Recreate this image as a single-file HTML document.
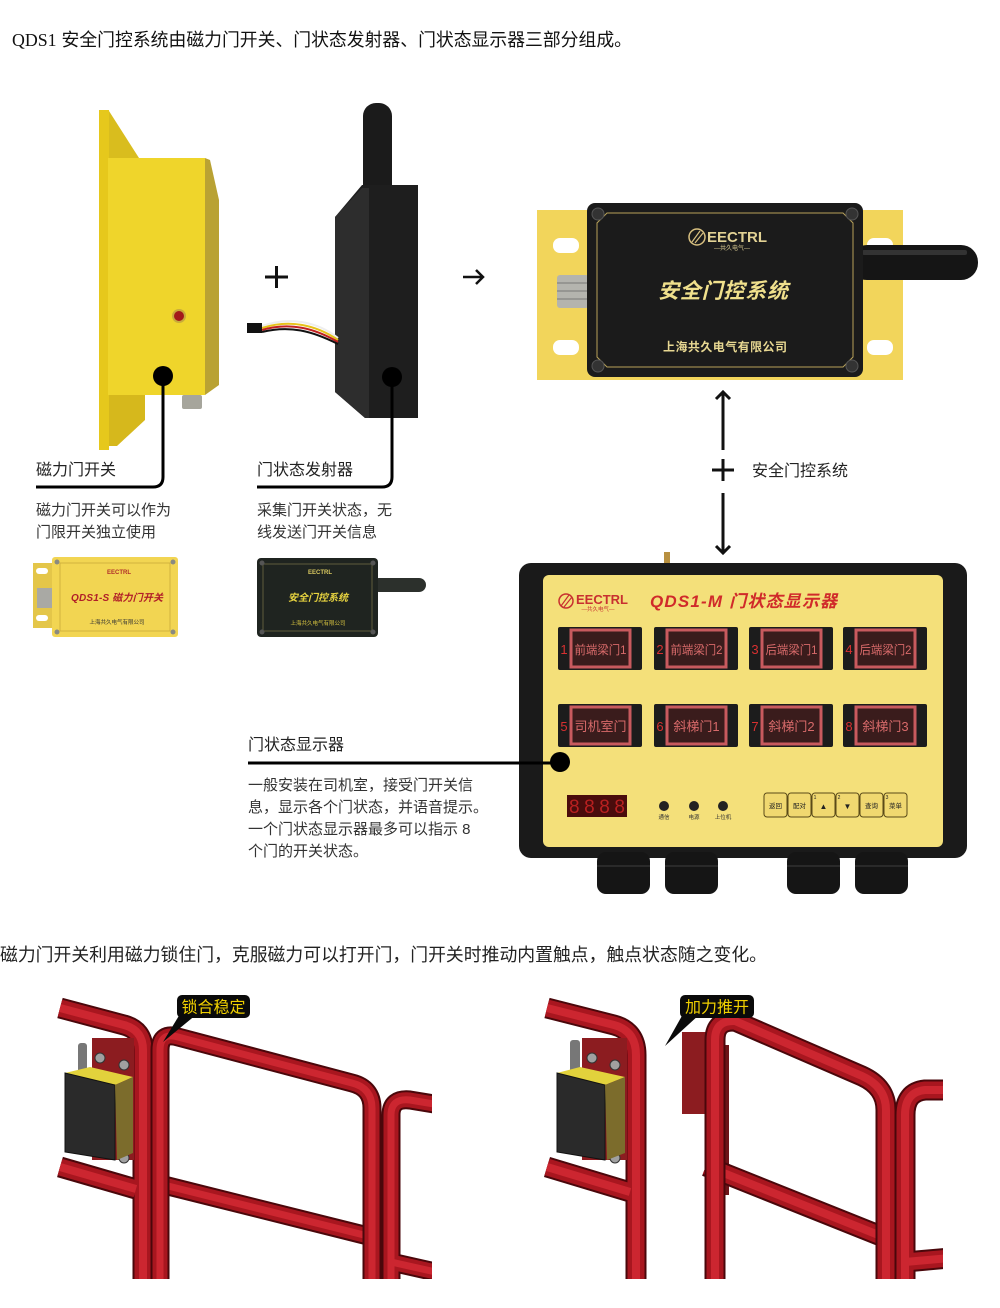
<!DOCTYPE html>
<html><head><meta charset="utf-8">
<style>
html,body{margin:0;padding:0;background:#fff}
svg{display:block}
text{font-family:"Liberation Sans","Noto Sans CJK SC",sans-serif}
</style></head>
<body>
<svg width="1000" height="1308" viewBox="0 0 1000 1308" xmlns="http://www.w3.org/2000/svg">
<defs>
  <clipPath id="cl"><rect x="0" y="985" width="432" height="294"/></clipPath>
  <clipPath id="cr"><rect x="480" y="985" width="463" height="294"/></clipPath>
  <path id="l1" d="M60,1167 L136,1189"/>
  <path id="l2" d="M60,1008 L124,1025 Q143,1030 143,1050 L143,1280"/>
  <path id="l3" d="M160,1184 L372,1237"/>
  <path id="l4" d="M160,1280 L160,1050 Q160,1032 178,1037 L352,1083 Q372,1088 372,1108 L372,1280"/>
  <path id="l5" d="M391,1262 L440,1273"/>
  <path id="l6" d="M391,1280 L391,1115 Q391,1098 410,1100 L440,1105"/>
  <path id="r1" d="M547,1167 L630,1192"/>
  <path id="r2" d="M547,1008 L614,1025 Q636,1031 636,1055 L636,1280"/>
  <path id="r3" d="M706,1166 L886,1238"/>
  <path id="r4" d="M715,1280 L715,1040 Q715,1020 735,1021 L862,1076 Q886,1087 886,1110 L886,1280"/>
  <path id="r5" d="M905,1262 L950,1258"/>
  <path id="r6" d="M905,1280 L905,1115 Q905,1092 925,1090 L950,1090"/>
</defs>

<!-- Title -->
<text x="12" y="46" font-size="18" fill="#111" textLength="620" lengthAdjust="spacingAndGlyphs"><tspan font-family="Liberation Serif">QDS1</tspan> 安全门控系统由磁力门开关、门状态发射器、门状态显示器三部分组成。</text>

<!-- Yellow magnetic switch side view -->
<rect x="99" y="110" width="10" height="340" fill="#e6c81c"/>
<polygon points="109,111 139,158 109,158" fill="#d9bd1e"/>
<polygon points="109,395 145,395 145,420 117,446 109,446" fill="#d6b81c"/>
<rect x="108" y="158" width="97" height="237" fill="#efd52b"/>
<polygon points="205,158 210,160 219,200 219,385 205,395" fill="#b9a233"/>
<circle cx="179" cy="316" r="7" fill="#c9ab3a"/>
<circle cx="179" cy="316" r="5" fill="#a31a1a"/>
<rect x="182" y="395" width="20" height="14" rx="2" fill="#a6a59c"/>
<circle cx="163" cy="376" r="10" fill="#000"/>
<path d="M163,376 L163,477 Q163,487 153,487 L36,487" stroke="#000" stroke-width="3" fill="none"/>
<text x="36" y="475" font-size="16" fill="#222">磁力门开关</text>

<!-- plus / arrow -->
<path d="M265,277 H288 M276.5,266 V288" stroke="#111" stroke-width="3"/>
<path d="M463,277 H483 M476,270 L483,277 L476,284" stroke="#111" stroke-width="2.5" fill="none"/>

<!-- Transmitter -->
<rect x="363" y="103" width="29" height="95" rx="13" fill="#1b1b1b"/>
<polygon points="362,185 418,185 418,418 365,418 335,392 335,217" fill="#1e1e1e"/>
<polygon points="335,217 362,188 369,188 369,418 365,418 335,392" fill="#2d2d2d"/>
<path d="M262,326 C290,316 318,322 338,338" stroke="#eee" stroke-width="2" fill="none"/>
<path d="M262,328 C290,319 316,325 338,340" stroke="#e6c21a" stroke-width="2" fill="none"/>
<path d="M262,330 C290,322 314,328 338,342" stroke="#c02020" stroke-width="2" fill="none"/>
<path d="M262,332 C290,325 312,331 338,344" stroke="#111" stroke-width="2" fill="none"/>
<rect x="247" y="323" width="15" height="10" fill="#111"/>
<circle cx="392" cy="377" r="10" fill="#000"/>
<path d="M392,377 L392,477 Q392,487 382,487 L257,487" stroke="#000" stroke-width="3" fill="none"/>
<text x="257" y="475" font-size="16" fill="#222">门状态发射器</text>

<!-- descriptions -->
<text x="36" y="515" font-size="15" fill="#333">磁力门开关可以作为</text>
<text x="36" y="537" font-size="15" fill="#333">门限开关独立使用</text>
<text x="257" y="515" font-size="15" fill="#333">采集门开关状态，无</text>
<text x="257" y="537" font-size="15" fill="#333">线发送门开关信息</text>

<!-- small yellow box -->
<rect x="33" y="563" width="22" height="65" fill="#e4c649"/>
<rect x="36" y="568" width="12" height="6" rx="3" fill="#fff"/>
<rect x="36" y="615" width="12" height="6" rx="3" fill="#fff"/>
<rect x="37" y="588" width="15" height="20" fill="#a9a9a4"/>
<rect x="52" y="557" width="126" height="80" rx="3" fill="#f2d552"/>
<rect x="60" y="563" width="110" height="68" fill="none" stroke="#c9ab3a" stroke-width="0.8"/>
<circle cx="57" cy="562" r="2.5" fill="#8a8a80"/><circle cx="173" cy="562" r="2.5" fill="#8a8a80"/>
<circle cx="57" cy="632" r="2.5" fill="#8a8a80"/><circle cx="173" cy="632" r="2.5" fill="#8a8a80"/>
<text x="119" y="574" font-size="6" font-weight="bold" fill="#b0302a" text-anchor="middle">EECTRL</text>
<text x="117" y="601" font-size="10" font-weight="bold" font-style="italic" fill="#b01e28" text-anchor="middle" textLength="92">QDS1-S 磁力门开关</text>
<text x="117" y="624" font-size="5.5" fill="#333" text-anchor="middle">上海共久电气有限公司</text>

<!-- small black box -->
<rect x="372" y="578" width="54" height="14" rx="7" fill="#2c302c"/>
<rect x="257" y="558" width="121" height="79" rx="4" fill="#1f2420"/>
<rect x="263" y="564" width="109" height="67" fill="none" stroke="#8a8050" stroke-width="0.6"/>
<circle cx="262" cy="563" r="2.5" fill="#555"/><circle cx="373" cy="563" r="2.5" fill="#555"/>
<circle cx="262" cy="632" r="2.5" fill="#555"/><circle cx="373" cy="632" r="2.5" fill="#555"/>
<text x="320" y="574" font-size="6" font-weight="bold" fill="#d8c860" text-anchor="middle">EECTRL</text>
<text x="318" y="601" font-size="10" font-weight="bold" font-style="italic" fill="#e8d440" text-anchor="middle">安全门控系统</text>
<text x="318" y="625" font-size="5.5" fill="#d8c440" text-anchor="middle">上海共久电气有限公司</text>

<!-- Top right device -->
<rect x="537" y="210" width="366" height="170" fill="#f2d55b"/>
<rect x="553" y="238" width="26" height="15" rx="7" fill="#fff"/>
<rect x="553" y="340" width="26" height="15" rx="7" fill="#fff"/>
<rect x="867" y="238" width="26" height="15" rx="7" fill="#fff"/>
<rect x="867" y="340" width="26" height="15" rx="7" fill="#fff"/>
<rect x="850" y="245" width="128" height="35" rx="17" fill="#151515"/>
<rect x="862" y="250" width="105" height="5" rx="2" fill="#333"/>
<rect x="557" y="275" width="32" height="33" rx="3" fill="#b4b4ae"/>
<path d="M557,283 H589 M557,291 H589 M557,299 H589" stroke="#777" stroke-width="1"/>
<rect x="587" y="203" width="276" height="174" rx="8" fill="#1b1b1b"/>
<polygon points="607,213 843,213 853,223 853,357 843,367 607,367 597,357 597,223" fill="none" stroke="#b8a25a" stroke-width="1"/>
<circle cx="598" cy="214" r="6" fill="#333" stroke="#555"/>
<circle cx="852" cy="214" r="6" fill="#333" stroke="#555"/>
<circle cx="598" cy="366" r="6" fill="#333" stroke="#555"/>
<circle cx="852" cy="366" r="6" fill="#333" stroke="#555"/>
<circle cx="697" cy="237" r="8" fill="none" stroke="#d8c080" stroke-width="1.5"/>
<path d="M692,242 L700,231 M695,243 L703,233" stroke="#d8c080" stroke-width="1.2"/>
<text x="707" y="242" font-size="15" font-weight="bold" fill="#e2d294">EECTRL</text>
<text x="732" y="250" font-size="6" fill="#d8c890" text-anchor="middle">—共久电气—</text>
<text x="723" y="298" font-size="21" font-weight="bold" font-style="italic" fill="#f0e08c" text-anchor="middle" textLength="130">安全门控系统</text>
<text x="725" y="351" font-size="12" font-weight="bold" fill="#e8d892" text-anchor="middle" textLength="124">上海共久电气有限公司</text>

<!-- vertical arrows -->
<path d="M723,392 V450 M716,399 L723,392 L730,399" stroke="#111" stroke-width="3" fill="none"/>
<path d="M712,470 H734 M723,459 V481" stroke="#111" stroke-width="3"/>
<path d="M723,493 V553 M716,546 L723,553 L730,546" stroke="#111" stroke-width="3" fill="none"/>
<text x="752" y="476" font-size="16" fill="#222">安全门控系统</text>

<!-- Display -->
<rect x="664" y="552" width="6" height="12" fill="#b89040"/>
<rect x="519" y="563" width="448" height="295" rx="12" fill="#1a1a1a"/>
<rect x="543" y="575" width="400" height="272" rx="6" fill="#f4e07a"/>
<circle cx="566" cy="601" r="7" fill="none" stroke="#c83030" stroke-width="1.5"/>
<path d="M561,606 L569,595 M564,607 L572,597" stroke="#c83030" stroke-width="1.2"/>
<text x="576" y="604" font-size="13" font-weight="bold" fill="#c83030">EECTRL</text>
<text x="598" y="611" font-size="5.5" fill="#c83030" text-anchor="middle">—共久电气—</text>
<text x="650" y="607" font-size="17" font-weight="bold" font-style="italic" fill="#d02a2a" textLength="187">QDS1-M 门状态显示器</text>

<g font-size="12" text-anchor="middle">
  <!-- row 1 -->
  <rect x="558" y="627" width="84" height="43" rx="2" fill="#1c1c1c"/>
  <rect x="571" y="630" width="59" height="37" fill="#3a1c1c" stroke="#c85a5e" stroke-width="3"/>
  <text x="564" y="654" fill="#d83030" font-size="13">1</text><text x="600.5" y="654" fill="#d86a6a" textLength="52" lengthAdjust="spacingAndGlyphs">前端梁门1</text>
  <rect x="654" y="627" width="84" height="43" rx="2" fill="#1c1c1c"/>
  <rect x="667" y="630" width="59" height="37" fill="#3a1c1c" stroke="#c85a5e" stroke-width="3"/>
  <text x="660" y="654" fill="#d83030" font-size="13">2</text><text x="696.5" y="654" fill="#d86a6a" textLength="52" lengthAdjust="spacingAndGlyphs">前端梁门2</text>
  <rect x="749" y="627" width="84" height="43" rx="2" fill="#1c1c1c"/>
  <rect x="762" y="630" width="59" height="37" fill="#3a1c1c" stroke="#c85a5e" stroke-width="3"/>
  <text x="755" y="654" fill="#d83030" font-size="13">3</text><text x="791.5" y="654" fill="#d86a6a" textLength="52" lengthAdjust="spacingAndGlyphs">后端梁门1</text>
  <rect x="843" y="627" width="84" height="43" rx="2" fill="#1c1c1c"/>
  <rect x="856" y="630" width="59" height="37" fill="#3a1c1c" stroke="#c85a5e" stroke-width="3"/>
  <text x="849" y="654" fill="#d83030" font-size="13">4</text><text x="885.5" y="654" fill="#d86a6a" textLength="52" lengthAdjust="spacingAndGlyphs">后端梁门2</text>
  <!-- row 2 -->
  <rect x="558" y="704" width="84" height="43" rx="2" fill="#1c1c1c"/>
  <rect x="571" y="707" width="59" height="37" fill="#3a1c1c" stroke="#c85a5e" stroke-width="3"/>
  <text x="564" y="731" fill="#d83030" font-size="13">5</text><text x="600.5" y="731" fill="#d86a6a" font-size="13">司机室门</text>
  <rect x="654" y="704" width="84" height="43" rx="2" fill="#1c1c1c"/>
  <rect x="667" y="707" width="59" height="37" fill="#3a1c1c" stroke="#c85a5e" stroke-width="3"/>
  <text x="660" y="731" fill="#d83030" font-size="13">6</text><text x="696.5" y="731" fill="#d86a6a" font-size="13">斜梯门1</text>
  <rect x="749" y="704" width="84" height="43" rx="2" fill="#1c1c1c"/>
  <rect x="762" y="707" width="59" height="37" fill="#3a1c1c" stroke="#c85a5e" stroke-width="3"/>
  <text x="755" y="731" fill="#d83030" font-size="13">7</text><text x="791.5" y="731" fill="#d86a6a" font-size="13">斜梯门2</text>
  <rect x="843" y="704" width="84" height="43" rx="2" fill="#1c1c1c"/>
  <rect x="856" y="707" width="59" height="37" fill="#3a1c1c" stroke="#c85a5e" stroke-width="3"/>
  <text x="849" y="731" fill="#d83030" font-size="13">8</text><text x="885.5" y="731" fill="#d86a6a" font-size="13">斜梯门3</text>
</g>

<rect x="567" y="795" width="60" height="22" fill="#4a0c0c"/>
<text x="569" y="813" font-size="19" font-family="Liberation Mono" fill="#b82020" textLength="56">8888</text>
<circle cx="664" cy="806" r="5" fill="#222"/><circle cx="694" cy="806" r="5" fill="#222"/><circle cx="723" cy="806" r="5" fill="#222"/>
<g font-size="5.5" fill="#333" text-anchor="middle">
<text x="664" y="819">通信</text><text x="694" y="819">电源</text><text x="723" y="819">上位机</text>
</g>
<g fill="#f0d870" stroke="#5a4a18" stroke-width="1">
<rect x="764" y="793" width="23" height="24" rx="3"/><rect x="788" y="793" width="23" height="24" rx="3"/>
<rect x="812" y="793" width="23" height="24" rx="3"/><rect x="836" y="793" width="23" height="24" rx="3"/>
<rect x="860" y="793" width="23" height="24" rx="3"/><rect x="884" y="793" width="23" height="24" rx="3"/>
</g>
<g font-size="6.5" fill="#222" text-anchor="middle">
<text x="775.5" y="808">返回</text><text x="799.5" y="808">配对</text>
<text x="823.5" y="809" font-size="8">▲</text><text x="847.5" y="809" font-size="8">▼</text>
<text x="871.5" y="808">查询</text><text x="895.5" y="808">菜单</text>
<text x="815" y="799" font-size="5">1</text><text x="839" y="799" font-size="5">2</text><text x="887" y="799" font-size="5">3</text>
</g>
<g fill="#151515">
<rect x="597" y="852" width="53" height="42" rx="9"/><rect x="665" y="852" width="53" height="42" rx="9"/>
<rect x="787" y="852" width="53" height="42" rx="9"/><rect x="855" y="852" width="53" height="42" rx="9"/>
</g>
<path d="M597,866 H650 M665,866 H718 M787,866 H840 M855,866 H908" stroke="#2a2a2a" stroke-width="2"/>

<circle cx="560" cy="762" r="10" fill="#000"/>
<path d="M248,763 H560" stroke="#000" stroke-width="3"/>
<text x="248" y="750" font-size="16" fill="#222">门状态显示器</text>
<g font-size="15" fill="#333">
<text x="248" y="790">一般安装在司机室，接受门开关信</text>
<text x="248" y="812">息，显示各个门状态，并语音提示。</text>
<text x="248" y="834">一个门状态显示器最多可以指示 8</text>
<text x="248" y="856">个门的开关状态。</text>
</g>

<!-- bottom text -->
<text x="0" y="961" font-size="18" fill="#222" textLength="767" lengthAdjust="spacingAndGlyphs">磁力门开关利用磁力锁住门，克服磁力可以打开门，门开关时推动内置触点，触点状态随之变化。</text>

<!-- Left gate -->
<g clip-path="url(#cl)" fill="none">
  <g stroke="#4a070b" stroke-width="21"><use href="#l1"/><use href="#l2"/></g>
  <g stroke="#a8161f" stroke-width="17"><use href="#l1"/><use href="#l2"/></g>
  <g stroke="#cc2630" stroke-width="8"><use href="#l1"/><use href="#l2"/></g>
  <rect x="92" y="1038" width="42" height="122" fill="#8c1c20"/>
  <circle cx="100" cy="1058" r="5" fill="#a0a0a0" stroke="#333"/>
  <circle cx="124" cy="1065" r="5" fill="#a0a0a0" stroke="#333"/>
  <circle cx="124" cy="1158" r="5" fill="#a0a0a0" stroke="#333"/>
  <rect x="78" y="1043" width="9" height="32" rx="3" fill="#777"/>
  <polygon points="65,1073 90,1067 133,1077 115,1085" fill="#e2d23c"/>
  <polygon points="65,1073 115,1085 115,1160 65,1152" fill="#2a2a2a" stroke="#111"/>
  <polygon points="115,1085 133,1077 133,1153 117,1160" fill="#7c6c2c"/>
  <g stroke="#4a070b" stroke-width="19"><use href="#l3"/></g>
  <g stroke="#a8161f" stroke-width="15"><use href="#l3"/></g>
  <g stroke="#cc2630" stroke-width="7"><use href="#l3"/></g>
  <g stroke="#4a070b" stroke-width="19"><use href="#l4"/><use href="#l5"/><use href="#l6"/></g>
  <g stroke="#a8161f" stroke-width="15"><use href="#l4"/><use href="#l5"/><use href="#l6"/></g>
  <g stroke="#cc2630" stroke-width="7"><use href="#l4"/><use href="#l5"/><use href="#l6"/></g>
</g>
<rect x="177" y="995" width="73" height="23" rx="5" fill="#0a0a0a"/>
<polygon points="180,1014 197,1014 163,1042" fill="#0a0a0a"/>
<text x="213.5" y="1012.5" font-size="16" fill="#f0d000" text-anchor="middle">锁合稳定</text>

<!-- Right gate -->
<g clip-path="url(#cr)" fill="none">
  <g stroke="#4a070b" stroke-width="21"><use href="#r1"/><use href="#r2"/></g>
  <g stroke="#a8161f" stroke-width="17"><use href="#r1"/><use href="#r2"/></g>
  <g stroke="#cc2630" stroke-width="8"><use href="#r1"/><use href="#r2"/></g>
  <rect x="582" y="1038" width="45" height="122" fill="#8c1c20"/>
  <circle cx="592" cy="1058" r="5" fill="#a0a0a0" stroke="#333"/>
  <circle cx="615" cy="1065" r="5" fill="#a0a0a0" stroke="#333"/>
  <circle cx="615" cy="1158" r="5" fill="#a0a0a0" stroke="#333"/>
  <rect x="570" y="1040" width="10" height="35" rx="3" fill="#777"/>
  <polygon points="557,1073 580,1067 625,1077 605,1085" fill="#e2d23c"/>
  <polygon points="557,1073 605,1085 605,1160 557,1152" fill="#2a2a2a" stroke="#111"/>
  <polygon points="605,1085 625,1077 625,1153 607,1160" fill="#7c6c2c"/>
  <rect x="682" y="1032" width="24" height="82" fill="#8c1c20"/>
  <rect x="724" y="1045" width="5" height="150" fill="#6e1418"/>
  <g stroke="#4a070b" stroke-width="21"><use href="#r3"/></g>
  <g stroke="#a8161f" stroke-width="17"><use href="#r3"/></g>
  <g stroke="#cc2630" stroke-width="8"><use href="#r3"/></g>
  <g stroke="#4a070b" stroke-width="21"><use href="#r4"/><use href="#r5"/><use href="#r6"/></g>
  <g stroke="#a8161f" stroke-width="17"><use href="#r4"/><use href="#r5"/><use href="#r6"/></g>
  <g stroke="#cc2630" stroke-width="8"><use href="#r4"/><use href="#r5"/><use href="#r6"/></g>
</g>
<rect x="680" y="995" width="74" height="23" rx="5" fill="#0a0a0a"/>
<polygon points="683,1014 700,1014 665,1046" fill="#0a0a0a"/>
<text x="717" y="1012.5" font-size="16" fill="#f0d000" text-anchor="middle">加力推开</text>
</svg>
</body></html>
